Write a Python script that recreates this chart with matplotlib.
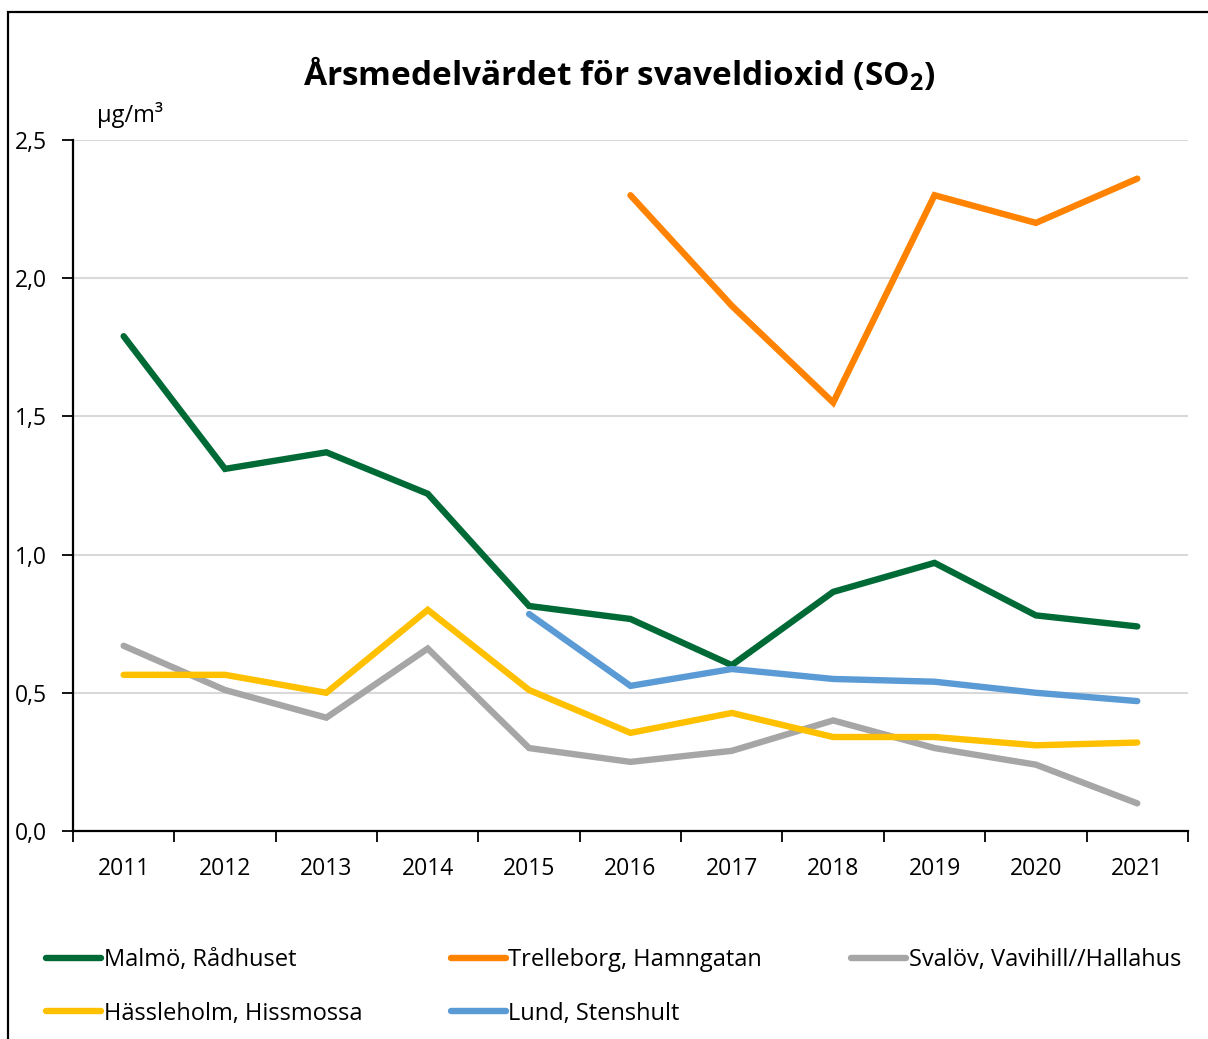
import matplotlib
matplotlib.use("Agg")
from matplotlib import pyplot as plt
from matplotlib.patches import Rectangle
import numpy as np

plt.rcParams['font.family'] = ['Open Sans', 'DejaVu Sans']
plt.rcParams['mathtext.fontset'] = 'custom'
plt.rcParams['mathtext.rm'] = 'Open Sans'
plt.rcParams['mathtext.bf'] = 'Open Sans:bold'

# data
years = ['2011', '2012', '2013', '2014', '2015', '2016', '2017', '2018', '2019', '2020', '2021']
malmo = [1.79, 1.31, 1.37, 1.22, 0.814, 0.767, 0.60, 0.865, 0.97, 0.78, 0.74]
trelleborg = [None, None, None, None, None, 2.30, 1.90, 1.55, 2.30, 2.20, 2.36]
svalov = [0.67, 0.51, 0.41, 0.66, 0.30, 0.25, 0.29, 0.40, 0.30, 0.24, 0.10]
hassleholm = [0.565, 0.565, 0.50, 0.80, 0.51, 0.355, 0.427, 0.34, 0.34, 0.31, 0.32]
lund = [None, None, None, None, 0.785, 0.525, 0.586, 0.55, 0.54, 0.50, 0.47]

series = [
    ("Malmö, Rådhuset", malmo, "#006A36"),
    ("Trelleborg, Hamngatan", trelleborg, "#FF8300"),
    ("Svalöv, Vavihill//Hallahus", svalov, "#A6A6A6"),
    ("Hässleholm, Hissmossa", hassleholm, "#FFC000"),
    ("Lund, Stenshult", lund, "#5B9BD5"),
]

fs = 16.5
lw = 4.6

fig = plt.figure(figsize=(12.08, 10.39), dpi=100)
ax = fig.add_axes([0.0604, 0.2002, 0.9834 - 0.0604, 0.8653 - 0.2002])

x = np.arange(len(years))
lines = {}
for name, vals, col in series:
    y = np.array([np.nan if v is None else v for v in vals], dtype=float)
    l, = ax.plot(x, y, color=col, lw=lw, solid_capstyle='round', solid_joinstyle='miter', label=name)
    lines[name] = l

ax.set_xlim(-0.5, len(years) - 0.5)
ax.set_ylim(0, 2.5)
ax.set_yticks([0, 0.5, 1.0, 1.5, 2.0, 2.5])
ax.set_yticklabels(['0,0', '0,5', '1,0', '1,5', '2,0', '2,5'], fontsize=fs)
ax.yaxis.grid(True, color='#D9D9D9', lw=1.5)
ax.set_axisbelow(True)

ax.set_xticks(np.arange(-0.5, len(years), 1.0))
ax.set_xticklabels([])
ax.set_xticks(x, minor=True)
ax.set_xticklabels(years, minor=True, fontsize=fs)
ax.tick_params(axis='x', which='major', direction='out', length=8, width=1.3, color='black')
ax.tick_params(axis='x', which='minor', length=0, pad=19)
ax.tick_params(axis='y', direction='out', length=8, width=1.3, pad=11)

for s in ['top', 'right']:
    ax.spines[s].set_visible(False)
ax.spines['left'].set_linewidth(1.6)
ax.spines['bottom'].set_linewidth(1.6)

fig.text(0.513, 0.929, r"Årsmedelvärdet för svaveldioxid (SO$_\mathbf{2}$)",
         ha='center', va='center', fontsize=24, fontweight='bold')
fig.text(0.080, 0.889, "µg/m³", ha='left', va='center', fontsize=17)

order = ["Malmö, Rådhuset", "Hässleholm, Hissmossa", "Trelleborg, Hamngatan",
         "Lund, Stenshult", "Svalöv, Vavihill//Hallahus"]
fig.legend([lines[n] for n in order], order, ncol=3, loc='upper left',
           bbox_to_anchor=(0.03, 0.0965), frameon=False, fontsize=17,
           handlelength=2.35, handletextpad=0.1, columnspacing=3.75,
           labelspacing=1.25, borderaxespad=0)

# outer frame
fig.patches.append(Rectangle((8 / 1208, -0.05), 1.2, 1 - 12 / 1039 + 0.05,
                             transform=fig.transFigure, fill=False,
                             edgecolor='black', lw=1.6))

fig.savefig("out.png", dpi=100)
